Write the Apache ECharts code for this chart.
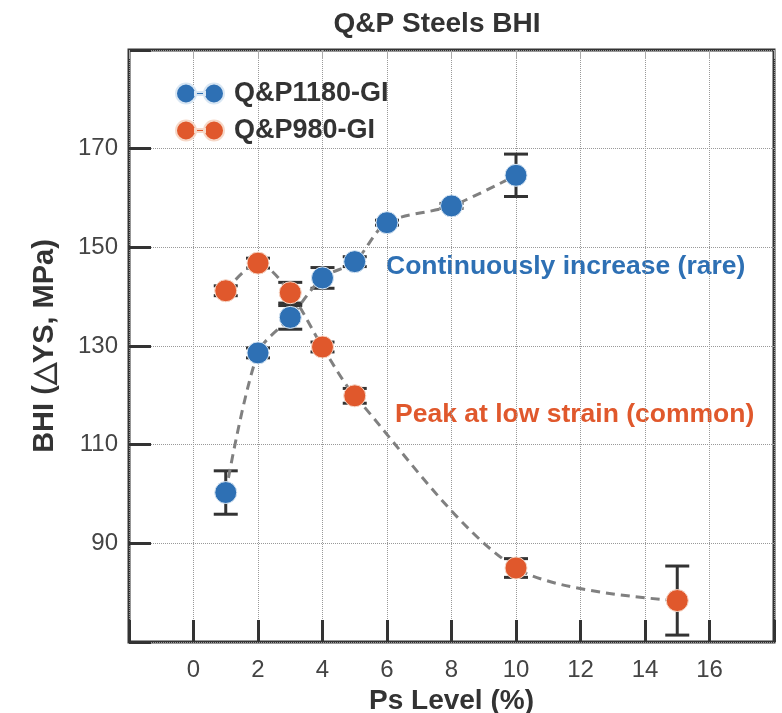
<!DOCTYPE html>
<html><head><meta charset="utf-8">
<script src="https://cdn.jsdelivr.net/npm/echarts@6/dist/echarts.min.js"></script>
<style>html,body{margin:0;padding:0;background:#fff}#c{width:782px;height:713px}</style>
</head><body><div id="c"></div>
<script>
const seriesNames = ['Q&P1180-GI', 'Q&P980-GI'];
const xBlue = [1, 2, 3, 4, 5, 6, 8, 10];
const yBlue = [100.3, 128.6, 135.8, 143.8, 147.1, 155.0, 158.4, 164.6];
const eBlue = [4.4, 1.0, 2.4, 2.1, 1.0, 0.5, 0.5, 4.3];
const xOrange = [1, 2, 3, 4, 5, 10, 15];
const yOrange = [141.2, 146.8, 140.8, 129.8, 119.9, 85.0, 78.4];
const eOrange = [1.0, 1.0, 2.1, 1.0, 1.5, 1.9, 7.0];
const xTicks = [0, 2, 4, 6, 8, 10, 12, 14, 16];
const yTicks = [90, 110, 130, 150, 170];

const BLUE = '#2e70b4', ORANGE = '#e0582c', DARK = '#333333';
const FONT = 'Liberation Sans, Arial, sans-serif';

function pts(xs, ys) { return xs.map((x, i) => [x, ys[i]]); }
function errs(xs, ys, es) { return xs.map((x, i) => [x, ys[i] - es[i], ys[i] + es[i]]); }

function errorSeries(data) {
  return {
    type: 'custom', z: 2, silent: true,
    renderItem: function (params, api) {
      const x = api.value(0), lo = api.value(1), hi = api.value(2);
      const p1 = api.coord([x, lo]), p2 = api.coord([x, hi]);
      const w = 12;
      const st = { stroke: DARK, lineWidth: 3 };
      return { type: 'group', children: [
        { type: 'line', shape: { x1: p1[0], y1: p1[1], x2: p2[0], y2: p2[1] }, style: st },
        { type: 'line', shape: { x1: p1[0] - w, y1: p1[1], x2: p1[0] + w, y2: p1[1] }, style: st },
        { type: 'line', shape: { x1: p2[0] - w, y1: p2[1], x2: p2[0] + w, y2: p2[1] }, style: st }
      ]};
    },
    encode: { x: 0, y: [1, 2] },
    data: data
  };
}

const iconPath = 'path://M0,10 a10,10 0 1,0 20,0 a10,10 0 1,0 -20,0 Z M19,8.5 h10 v3 h-10 Z M28,10 a10,10 0 1,0 20,0 a10,10 0 1,0 -20,0 Z';

const chart = echarts.init(document.getElementById('c'), null, { renderer: 'canvas' });
chart.setOption({
  backgroundColor: '#ffffff',
  animation: false,
  title: {
    text: 'Q&P Steels BHI', left: 432, top: 5, textAlign: 'center',
    textStyle: { fontFamily: FONT, fontWeight: 'bold', fontSize: 28, color: DARK }
  },
  legend: {
    left: 170, top: 75, orient: 'vertical', itemGap: 10,
    itemWidth: 48, itemHeight: 22,
    data: [{ name: seriesNames[0], icon: iconPath }, { name: seriesNames[1], icon: iconPath }],
    textStyle: { fontFamily: FONT, fontWeight: 'bold', fontSize: 27, color: DARK, padding: [0, 0, 0, 5] }
  },
  grid: { left: 129, right: 8, top: 50, bottom: 71, show: true, borderColor: DARK, borderWidth: 3,
    backgroundColor: '#fff', containLabel: false, outerBoundsMode: 'none' },
  xAxis: [{
    type: 'value', min: -2, max: 18, interval: 2,
    name: 'Ps Level (%)', nameLocation: 'middle', nameGap: 44,
    nameTextStyle: { fontFamily: FONT, fontWeight: 'bold', fontSize: 28, color: DARK },
    axisLine: { show: false, onZero: false },
    axisTick: { show: true, inside: true, length: 22, lineStyle: { width: 3, color: DARK } },
    axisLabel: { margin: 16, fontFamily: FONT, fontSize: 24, color: '#444',
      formatter: v => xTicks.indexOf(v) >= 0 ? String(v) : '' },
    splitLine: { show: true, lineStyle: { type: 'dotted', color: '#999', width: 1 } }
  }, {
    type: 'value', min: -2, max: 18, interval: 2, position: 'top',
    axisLine: { show: false, onZero: false }, axisLabel: { show: false }, splitLine: { show: false },
    axisTick: { show: true, inside: true, length: 9, lineStyle: { width: 1, color: '#aaa' } }
  }],
  yAxis: {
    type: 'value', min: 70, max: 190, interval: 20,
    name: 'BHI (△YS, MPa)', nameLocation: 'middle', nameGap: 70,
    nameTextStyle: { fontFamily: FONT, fontWeight: 'bold', fontSize: 29, color: DARK },
    axisLine: { show: false, onZero: false },
    axisTick: { show: true, inside: true, length: 22, lineStyle: { width: 3, color: DARK } },
    axisLabel: { margin: 11, fontFamily: FONT, fontSize: 24, color: '#444',
      formatter: v => yTicks.indexOf(v) >= 0 ? String(v) : '' },
    splitLine: { show: true, lineStyle: { type: 'dotted', color: '#999', width: 1 } }
  },
  graphic: [
    { type: 'text', left: 386, top: 253, style: { text: 'Continuously increase (rare)', fill: BLUE,
      font: 'bold 26.5px ' + FONT } },
    { type: 'text', left: 395, top: 401, style: { text: 'Peak at low strain (common)', fill: ORANGE,
      font: 'bold 26.5px ' + FONT } }
  ],
  series: [
    errorSeries(errs(xBlue, yBlue, eBlue)),
    errorSeries(errs(xOrange, yOrange, eOrange)),
    {
      name: seriesNames[0], type: 'line', z: 3, smooth: 0.3,
      data: pts(xBlue, yBlue), symbol: 'circle', symbolSize: 22,
      itemStyle: { color: BLUE, borderColor: '#d8e6f3', borderWidth: 1 },
      lineStyle: { color: '#808080', width: 3, type: [9, 6] }
    },
    {
      name: seriesNames[1], type: 'line', z: 3, smooth: 0.3,
      data: pts(xOrange, yOrange), symbol: 'circle', symbolSize: 22,
      itemStyle: { color: ORANGE, borderColor: '#f6d8c8', borderWidth: 1 },
      lineStyle: { color: '#808080', width: 3, type: [9, 6] }
    }
  ]
});
</script></body></html>
